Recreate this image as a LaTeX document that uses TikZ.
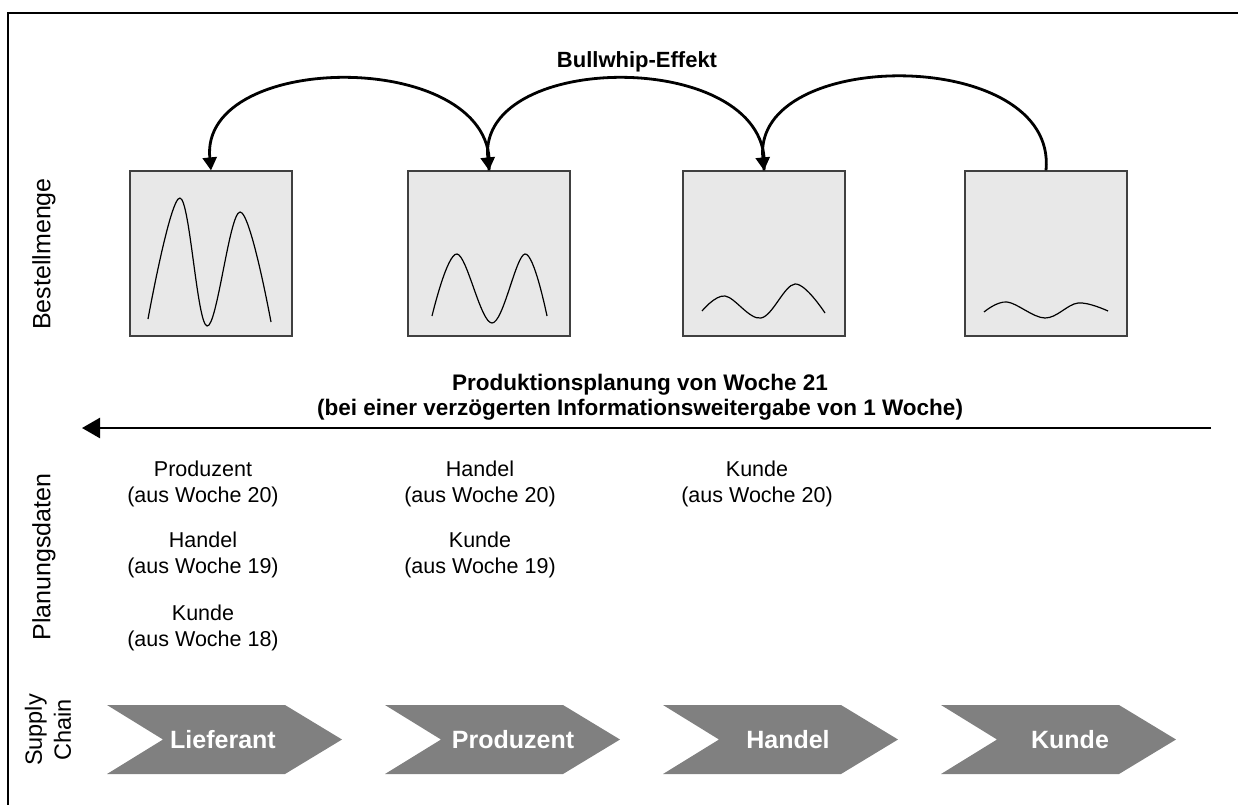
\documentclass[tikz,border=0pt]{standalone}
\usepackage{fontspec}
\setmainfont{Liberation Sans}
\usetikzlibrary{arrows.meta}

\begin{document}
\begin{tikzpicture}[x=1pt,y=-1pt,
  frameline/.style={line width=2pt},
  panel/.style={draw=black!75, fill=black!9, line width=1.2pt,
    minimum width=162pt, minimum height=165pt, inner sep=0pt},
  wave/.style={line width=1.2pt, line join=round},
  whip/.style={line width=2.8pt, -{Triangle[length=13pt,width=14pt]}},
  flow/.style={line width=2.6pt, -{Triangle[length=18pt,width=20pt]}},
  chev/.style={fill=black!50},
  chevtext/.style={text=white, inner sep=0pt, font=\bfseries\fontsize{25}{28}\selectfont},
  plan/.style={align=center, inner sep=0pt, font=\fontsize{21.5}{26.5}\selectfont},
  side/.style={rotate=90, align=center, inner sep=0pt, font=\fontsize{25}{28}\selectfont},
  head/.style={align=center, inner sep=0pt, font=\bfseries\fontsize{22}{24.5}\selectfont}
]
\useasboundingbox (0,0) rectangle (1238,804);
\clip (0,0) rectangle (1238,804);

% outer frame (runs off the page to the right and bottom)
\draw[frameline] (7.5,820) -- (7.5,12.5) -- (1250,12.5);

% title
\node[head] (title) at (637,62) {Bullwhip-Effekt};

% order-quantity panels
\node[panel] (b1) at (211,253.5) {};
\node[panel] (b2) at (489,253.5) {};
\node[panel] (b3) at (764,253.5) {};
\node[panel] (b4) at (1046,253.5) {};

% demand curves
\draw[wave] plot[smooth,tension=0.6] coordinates {(148,319) (180,198) (207,326) (240,212) (271,322)};
\draw[wave] plot[smooth,tension=0.6] coordinates {(432,316) (457,254) (492,323) (525,254) (547,316)};
\draw[wave] plot[smooth,tension=0.6] coordinates {(702,311) (725,296) (761,318) (795,284) (825,313)};
\draw[wave] plot[smooth,tension=0.6] coordinates {(984,312) (1007,302) (1045,318) (1078,303) (1108,311)};

% bullwhip arcs
\draw[whip] (b2.north) .. controls ([xshift=12pt,yshift=122pt]b2.north) and ([xshift=-12pt,yshift=122pt]b1.north) .. (b1.north);
\draw[whip] (b3.north) .. controls ([xshift=12pt,yshift=122pt]b3.north) and ([xshift=-12pt,yshift=122pt]b2.north) .. (b2.north);
\draw[whip] (b4.north) .. controls ([xshift=12pt,yshift=124pt]b4.north) and ([xshift=-12pt,yshift=124pt]b3.north) .. (b3.north);

% production planning
\node[head, font=\bfseries\fontsize{22.5}{24.5}\selectfont] (prod) at (640,397) {Produktionsplanung von Woche 21\\(bei einer verzögerten Informationsweitergabe von 1 Woche)};
\coordinate (fs) at (1211,428);
\coordinate (fe) at (82,428);
\draw[flow] (fs) -- (fe);

% planning data
\node[plan] (p11) at (203,484) {Produzent\\(aus Woche 20)};
\node[plan] (p12) at (203,555) {Handel\\(aus Woche 19)};
\node[plan] (p13) at (203,628) {Kunde\\(aus Woche 18)};
\node[plan] (p21) at (480,484) {Handel\\(aus Woche 20)};
\node[plan] (p22) at (480,555) {Kunde\\(aus Woche 19)};
\node[plan] (p31) at (757,484) {Kunde\\(aus Woche 20)};

% supply chain chevrons
\foreach \L in {107,385,663,941}{
  \fill[chev] (\L,705) -- (\L+178,705) -- (\L+235,739.5) -- (\L+178,774) -- (\L,774) -- (\L+56,739.5) -- cycle;
}
\node[chevtext] (c1) at (223,740) {Lieferant};
\node[chevtext] (c2) at (513,740) {Produzent};
\node[chevtext] (c3) at (788,740) {Handel};
\node[chevtext] (c4) at (1070,740) {Kunde};

% row labels
\node[side] (l1) at (44,254) {Bestellmenge};
\node[side] (l2) at (44,557) {Planungsdaten};
\node[side, font=\fontsize{23.5}{29}\selectfont] (l3) at (48,730) {Supply\\Chain};
\end{tikzpicture}
\end{document}
